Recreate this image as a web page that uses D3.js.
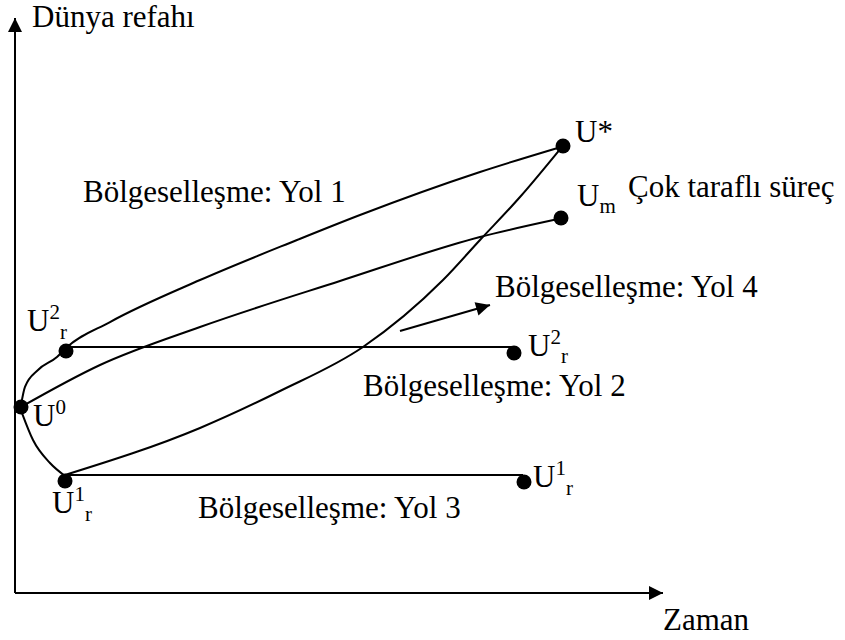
<!DOCTYPE html>
<html>
<head>
<meta charset="utf-8">
<script src="https://cdn.jsdelivr.net/npm/d3@7"></script>
<style>
    html, body { margin: 0; padding: 0; background: #ffffff; }
    svg { display: block; }
</style>
</head>
<body>
<svg id="chart"></svg>
<script>
// Points on the diagram (time, welfare) in 0-100 units
const pointNames = ['U0', 'U2r_left', 'U1r_left', 'Ustar', 'Um', 'U2r_right', 'U1r_right'];
const pointX = [0.93, 7.87, 7.72, 84.57, 84.26, 77.01, 78.55];
const pointY = [32.35, 42.09, 19.48, 77.74, 65.22, 41.74, 19.30];

// Yol 1: U0 -> U2r -> U*
const path1X = [0.93, 1.54, 3.55, 6.48, 7.87, 14.66, 28.55, 43.52, 53.24, 71.76, 84.26];
const path1Y = [32.70, 35.83, 38.78, 41.04, 42.61, 47.13, 54.43, 61.39, 65.74, 73.22, 77.57];

// Cok tarafli surec: U0 -> Um
const multiX = [0.93, 13.12, 28.55, 50.15, 71.76, 83.80];
const multiY = [32.35, 39.65, 46.26, 54.26, 61.91, 65.04];

// Yol 3 rise: U1r -> U*
const path3X = [7.72, 28.55, 40.90, 53.70, 66.05, 71.76, 77.93, 84.26];
const path3Y = [20.52, 28.70, 35.13, 42.78, 54.43, 61.39, 68.87, 77.39];

// U0 -> U1r drop
const dropX = [1.08, 2.78, 5.40, 7.72];
const dropY = [31.30, 26.61, 22.61, 20.35];

// Flat paths (Yol 2 and Yol 3)
const flat2X = [7.87, 77.01];
const flat2Y = [42.78, 42.78];
const flat3X = [7.72, 78.40];
const flat3Y = [20.52, 20.52];

// Yol 4 arrow
const arrowX = [59.41, 73.30];
const arrowY = [45.57, 50.09];

(function() {
    'use strict';

    const width = 845;
    const height = 640;
    const fontFamily = '"Liberation Serif", "DejaVu Serif", serif';

    const svg = d3.select('#chart')
        .attr('width', width)
        .attr('height', height);

    // Scales
    const xScale = d3.scaleLinear().domain([0, 100]).range([15, 663]);
    const yScale = d3.scaleLinear().domain([0, 100]).range([593, 18]);

    const zip = (xs, ys) => xs.map((x, i) => ({ x: x, y: ys[i] }));

    const line = d3.line()
        .x(d => xScale(d.x))
        .y(d => yScale(d.y))
        .curve(d3.curveMonotoneX);

    const straight = d3.line()
        .x(d => xScale(d.x))
        .y(d => yScale(d.y));

    // Arrow heads
    const defs = svg.append('defs');
    defs.append('marker')
        .attr('id', 'head')
        .attr('viewBox', '0 0 10 10')
        .attr('refX', 10)
        .attr('refY', 5)
        .attr('markerUnits', 'userSpaceOnUse')
        .attr('markerWidth', 16)
        .attr('markerHeight', 14)
        .attr('orient', 'auto')
        .append('path')
        .attr('d', 'M0,0 L10,5 L0,10 Z')
        .attr('fill', '#000');

    // Axes
    svg.append('line')
        .attr('x1', xScale(0)).attr('y1', yScale(0))
        .attr('x2', xScale(0)).attr('y2', yScale(100))
        .attr('stroke', '#000').attr('stroke-width', 2)
        .attr('marker-end', 'url(#head)');

    svg.append('line')
        .attr('x1', xScale(0)).attr('y1', yScale(0))
        .attr('x2', xScale(100)).attr('y2', yScale(0))
        .attr('stroke', '#000').attr('stroke-width', 2)
        .attr('marker-end', 'url(#head)');

    // Curves
    const curves = [
        zip(path1X, path1Y),
        zip(multiX, multiY),
        zip(path3X, path3Y),
        zip(dropX, dropY)
    ];

    svg.selectAll('.curve')
        .data(curves)
        .enter()
        .append('path')
        .attr('class', 'curve')
        .attr('fill', 'none')
        .attr('stroke', '#000')
        .attr('stroke-width', 2)
        .attr('d', line);

    // Flat lines
    svg.selectAll('.flat')
        .data([zip(flat2X, flat2Y), zip(flat3X, flat3Y)])
        .enter()
        .append('path')
        .attr('class', 'flat')
        .attr('fill', 'none')
        .attr('stroke', '#000')
        .attr('stroke-width', 2)
        .attr('d', straight);

    // Yol 4 arrow
    svg.append('path')
        .datum(zip(arrowX, arrowY))
        .attr('fill', 'none')
        .attr('stroke', '#000')
        .attr('stroke-width', 2)
        .attr('marker-end', 'url(#head)')
        .attr('d', straight);

    // Dots
    svg.selectAll('.dot')
        .data(zip(pointX, pointY))
        .enter()
        .append('circle')
        .attr('class', 'dot')
        .attr('cx', d => xScale(d.x))
        .attr('cy', d => yScale(d.y))
        .attr('r', 7.5)
        .attr('fill', '#000');

    // Labels
    const big = 31;
    const small = 21;

    function label(x, y, text) {
        return svg.append('text')
            .attr('x', x)
            .attr('y', y)
            .attr('font-family', fontFamily)
            .attr('font-size', big)
            .attr('fill', '#000')
            .text(text);
    }

    function symbol(x, y, sup, sub, subShift) {
        const t = svg.append('text')
            .attr('x', x)
            .attr('y', y)
            .attr('font-family', fontFamily)
            .attr('font-size', big)
            .attr('fill', '#000');
        t.append('tspan').text('U');
        if (sup) {
            t.append('tspan')
                .attr('dy', -12)
                .attr('font-size', small)
                .text(sup);
        }
        if (sub) {
            t.append('tspan')
                .attr('dy', sup ? 12 + subShift : subShift)
                .attr('font-size', small)
                .text(sub);
        }
        return t;
    }

    label(32, 27, 'Dünya refahı');
    label(663, 630, 'Zaman');
    label(83, 202, 'Bölgeselleşme: Yol 1');
    label(628, 197, 'Çok taraflı süreç');
    label(495, 297, 'Bölgeselleşme: Yol 4');
    label(363, 396, 'Bölgeselleşme: Yol 2');
    label(198, 518, 'Bölgeselleşme: Yol 3');
    label(575, 142, 'U*');

    symbol(577, 206, null, 'm', 7);
    symbol(27, 331, '2', 'r', 8);
    symbol(33, 426, '0', null, 0);
    symbol(52, 513, '1', 'r', 8);
    symbol(528, 356, '2', 'r', 7);
    symbol(533, 487, '1', 'r', 8);
})();
</script>
</body>
</html>
